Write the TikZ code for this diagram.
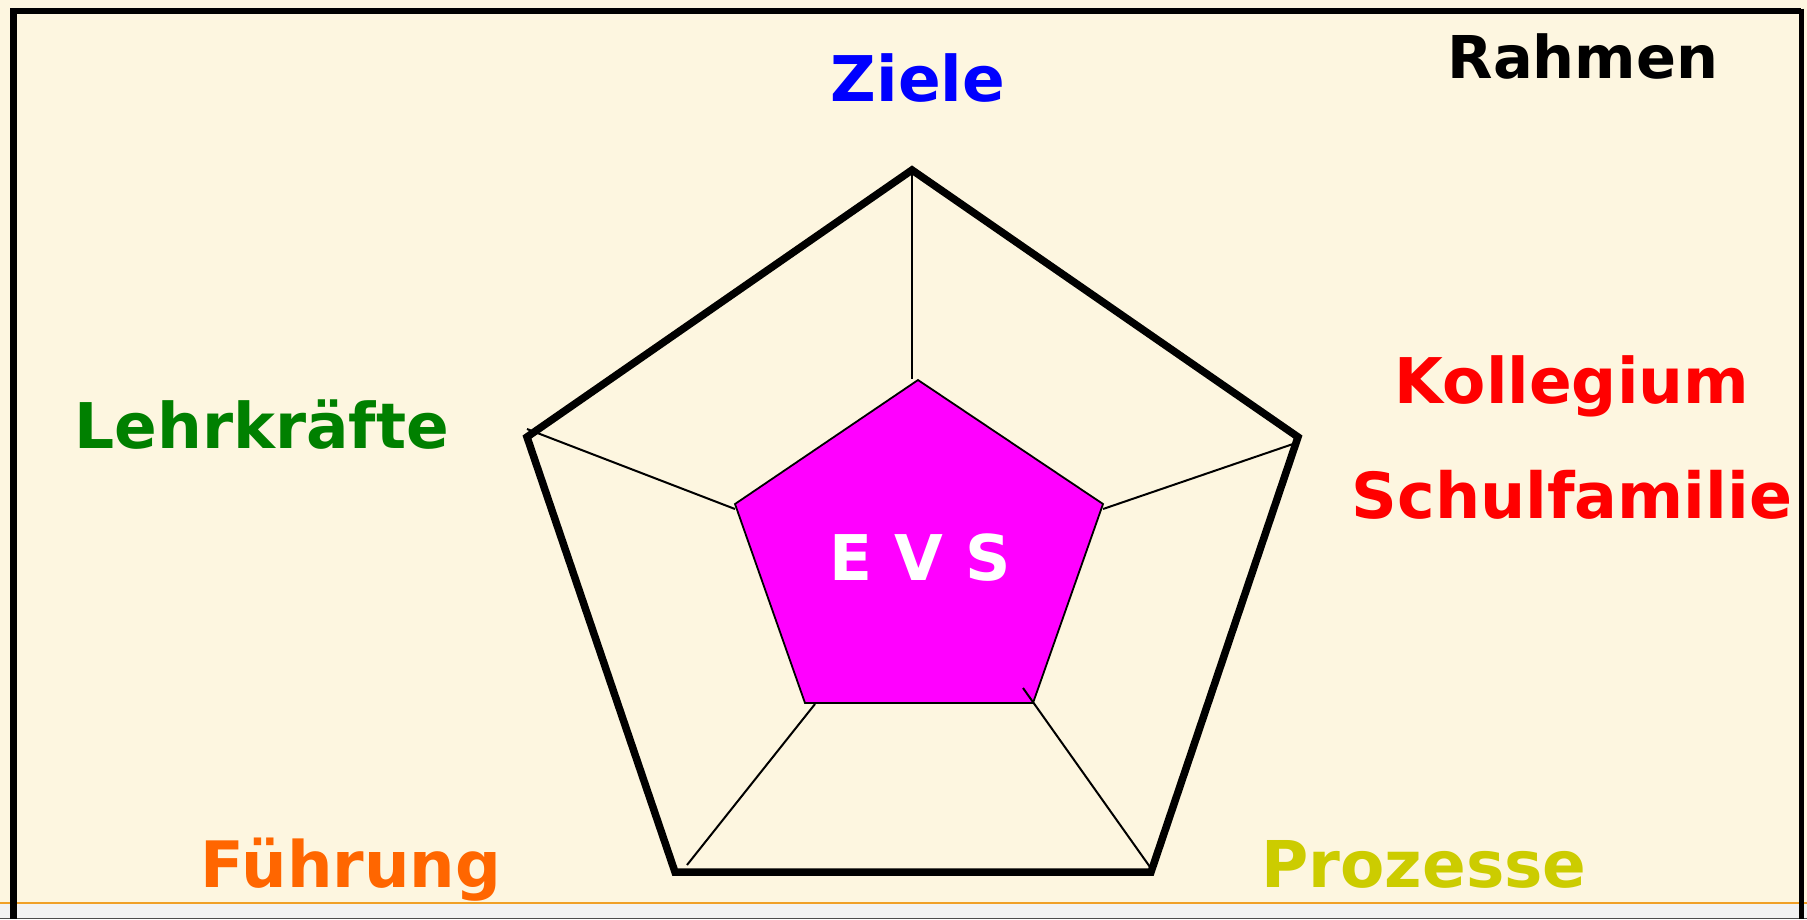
\documentclass[tikz,border=0pt]{standalone}
\usepackage{fontspec}
\setmainfont{DejaVu Sans}
\definecolor{cream}{RGB}{253,246,224}
\definecolor{stripgray}{RGB}{242,242,242}
\definecolor{lineorange}{RGB}{240,160,40}
\definecolor{zielblue}{RGB}{0,0,255}
\definecolor{lehrgreen}{RGB}{0,128,0}
\definecolor{kolred}{RGB}{255,0,0}
\definecolor{fuehrorange}{RGB}{255,102,0}
\definecolor{prozyellow}{RGB}{204,204,0}
\definecolor{evsmagenta}{RGB}{255,0,255}
\tikzset{
  lbl/.style={anchor=base, inner sep=0pt, font=\fontsize{63}{75}\selectfont\bfseries},
  outerpent/.style={draw=black, line width=7.5pt, line join=miter},
  innerpent/.style={draw=black, line width=1.8pt, fill=evsmagenta, line join=miter},
  spoke/.style={draw=black, line width=2pt},
}
\begin{document}
\begin{tikzpicture}[x=1pt,y=-1pt]
\useasboundingbox (0,0) rectangle (1807,919);
% background
\fill[cream] (0,0) rectangle (1807,919);
\fill[stripgray] (0,904) rectangle (1807,919);
\draw[lineorange, line width=1.8pt] (0,903) -- (1807,903);
\draw[black!70, line width=1pt] (0,918.5) -- (1807,918.5);
% frame
\draw[black, line width=6pt] (12.5,11) -- (1801,11);
\draw[black, line width=7pt] (13,8) -- (13,919);
\draw[black, line width=5pt] (1801,8.5) -- (1801,919);

% outer pentagon vertices
\coordinate (oT) at (912,170);
\coordinate (oR) at (1298,437);
\coordinate (oBR) at (1151,872);
\coordinate (oBL) at (675,872);
\coordinate (oL) at (527,437);
\draw[outerpent] (oT) -- (oR) -- (oBR) -- (oBL) -- (oL) -- cycle;

% inner pentagon vertices
\coordinate (iT) at (918,380);
\coordinate (iR) at (1103,504);
\coordinate (iBR) at (1033,703);
\coordinate (iBL) at (805,703);
\coordinate (iL) at (735,504);
\draw[innerpent] (iT) -- (iR) -- (iBR) -- (iBL) -- (iL) -- cycle;

% spoke ends
\coordinate (sT1) at (912,172);
\coordinate (sT2) at (912,379);
\coordinate (sL1) at (527,429);
\coordinate (sL2) at (735,509);
\coordinate (sR1) at (1293,444);
\coordinate (sR2) at (1103,509);
\coordinate (sBL1) at (687,865);
\coordinate (sBL2) at (815,704);
\coordinate (sBR1) at (1150,867);
\coordinate (sBR2) at (1023,688);
\draw[spoke, line width=2.8pt] (sT1) -- (sT2);
\draw[spoke] (sL1) -- (sL2);
\draw[spoke] (sR1) -- (sR2);
\draw[spoke] (sBL1) -- (sBL2);
\draw[spoke] (sBR1) -- (sBR2);

% labels
\node[lbl, text=white] (evs) at (920,580) {E V S};
\node[lbl, text=zielblue] (ziele) at (918,101) {Ziele};
\node[lbl, text=black, font=\fontsize{59}{70}\selectfont\bfseries] (rahmen) at (1583,78) {Rahmen};
\node[lbl, text=lehrgreen] (lehr) at (262,448) {Lehrkräfte};
\node[lbl, text=kolred] (koll) at (1572,403) {Kollegium};
\node[lbl, text=kolred, font=\fontsize{63.5}{75}\selectfont\bfseries] (schul) at (1572,518) {Schulfamilie};
\node[lbl, text=fuehrorange, font=\fontsize{64}{75}\selectfont\bfseries] (fuehr) at (351,887) {Führung};
\node[lbl, text=prozyellow, font=\fontsize{64.5}{75}\selectfont\bfseries] (proz) at (1424,887) {Prozesse};
\end{tikzpicture}
\end{document}
